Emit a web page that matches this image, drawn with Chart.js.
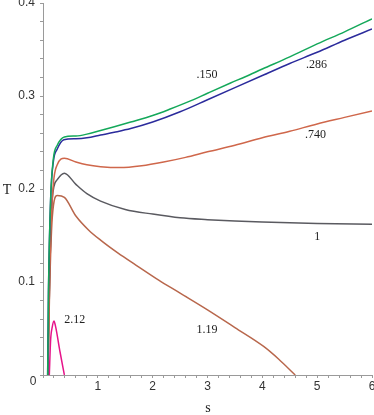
<!DOCTYPE html>
<html lang="en">
<head>
<meta charset="UTF-8">
<title>T against s</title>
<script src="https://cdn.jsdelivr.net/npm/chart.js"></script>
<style>
    body { margin: 0; background: #fff; }
    canvas { display: block; }
</style>
</head>
<body>

<canvas id="tChart" width="374" height="415"></canvas>

<script>
// curve .150
var s150 = [0.085, 0.10, 0.14, 0.19, 0.26, 0.39, 0.6, 0.8, 1.05, 1.3, 1.6, 2.0, 2.32, 2.7, 3.0, 3.42, 3.7, 4.0, 4.5, 5.0, 5.5, 6.0];
var T150 = [0, 0.09, 0.19, 0.233, 0.247, 0.256, 0.257, 0.259, 0.263, 0.267, 0.272, 0.279, 0.286, 0.295, 0.303, 0.314, 0.321, 0.329, 0.342, 0.356, 0.369, 0.383];
// curve .286
var s286 = [0.085, 0.10, 0.14, 0.19, 0.26, 0.38, 0.6, 0.8, 1.05, 1.3, 1.6, 2.0, 2.5, 3.0, 3.5, 4.0, 4.5, 5.0, 5.5, 6.0];
var T286 = [0, 0.09, 0.19, 0.23, 0.243, 0.253, 0.254, 0.255, 0.258, 0.261, 0.265, 0.272, 0.283, 0.296, 0.309, 0.322, 0.335, 0.347, 0.360, 0.372];
// curve .740
var s740 = [0.09, 0.12, 0.17, 0.26, 0.39, 0.6, 0.8, 1.05, 1.4, 1.8, 2.2, 2.6, 3.0, 3.5, 4.0, 4.5, 5.0, 5.5, 6.0];
var T740 = [0, 0.10, 0.19, 0.226, 0.233, 0.229, 0.226, 0.224, 0.223, 0.225, 0.229, 0.234, 0.240, 0.247, 0.255, 0.262, 0.270, 0.277, 0.284];
// curve 1
var s1 = [0.09, 0.12, 0.17, 0.26, 0.39, 0.6, 0.8, 1.05, 1.5, 2.0, 2.5, 3.0, 3.5, 4.0, 5.0, 6.0];
var T1 = [0, 0.10, 0.19, 0.21, 0.217, 0.205, 0.195, 0.187, 0.178, 0.173, 0.169, 0.167, 0.1655, 0.1645, 0.163, 0.162];
// curve 1.19
var s119 = [0.09, 0.12, 0.17, 0.26, 0.39, 0.6, 0.83, 1.05, 1.37, 1.7, 2.11, 2.5, 3.0, 3.5, 4.03, 4.3, 4.6];
var T119 = [0, 0.09, 0.17, 0.193, 0.191, 0.171, 0.156, 0.145, 0.131, 0.118, 0.102, 0.088, 0.070, 0.051, 0.0305, 0.017, 0];
// curve 2.12
var s212 = [0.115, 0.139, 0.17, 0.2, 0.23, 0.31, 0.39];
var T212 = [0, 0.0376, 0.052, 0.058, 0.052, 0.025, 0];

var curveNames = ['.150', '.286', '.740', '1', '1.19', '2.12'];
var curveColors = ['#14a85a', '#2b2b9c', '#cf674b', '#5a5a60', '#b8674c', '#e6148a'];
// where each curve name is written, in s and T
var labelS = [2.99, 4.99, 4.97, 5.0, 2.99, 0.58];
var labelT = [0.324, 0.334, 0.259, 0.149, 0.049, 0.060];

var curves = [[s150, T150], [s286, T286], [s740, T740], [s1, T1], [s119, T119], [s212, T212]];

function toPoints(sArr, tArr) {
    var pts = [];
    for (var i = 0; i < sArr.length; i++) {
        pts.push({x: sArr[i], y: tArr[i]});
    }
    return pts;
}

var datasets = curves.map(function (c, i) {
    return {
        label: curveNames[i],
        data: toPoints(c[0], c[1]),
        borderColor: curveColors[i],
        borderWidth: 1.5,
        pointRadius: 0,
        cubicInterpolationMode: 'monotone',
        fill: false
    };
});

// names on the curves, axis letters and the lone "0"
var labelPlugin = {
    id: 'curveLabels',
    afterDraw: function (chart) {
        var ctx = chart.ctx;
        var xs = chart.scales.x;
        var ys = chart.scales.y;
        ctx.save();
        ctx.fillStyle = '#222';
        ctx.textAlign = 'center';
        ctx.textBaseline = 'alphabetic';
        ctx.font = '12px "Liberation Serif", "Times New Roman", serif';
        for (var i = 0; i < curveNames.length; i++) {
            ctx.fillText(curveNames[i], xs.getPixelForValue(labelS[i]), ys.getPixelForValue(labelT[i]) + 4);
        }
        ctx.font = '14px "Liberation Serif", "Times New Roman", serif';
        ctx.fillText('T', 7, ys.getPixelForValue(0.2) + 5);
        ctx.fillText('s', xs.getPixelForValue(3.01), 411.5);
        ctx.fillStyle = '#333';
        ctx.font = '12px "Liberation Sans", Arial, sans-serif';
        ctx.textAlign = 'right';
        ctx.fillText('0', 36.5, 384.5);
        ctx.restore();
    }
};

var axisGrey = '#9a9a9a';

new Chart(document.getElementById('tChart').getContext('2d'), {
    type: 'line',
    data: { datasets: datasets },
    plugins: [labelPlugin],
    options: {
        responsive: false,
        animation: false,
        devicePixelRatio: 1,
        layout: { padding: 0 },
        plugins: {
            legend: { display: false },
            tooltip: { enabled: false }
        },
        scales: {
            x: {
                type: 'linear',
                min: 0,
                max: 6,
                grid: { drawOnChartArea: false, drawTicks: true, tickLength: 3, color: axisGrey },
                border: { display: true, color: axisGrey, width: 1 },
                ticks: {
                    stepSize: 0.2,
                    autoSkip: false,
                    maxRotation: 0,
                    padding: 1,
                    color: '#333',
                    font: { family: '"Liberation Sans", Arial, sans-serif', size: 12 },
                    callback: function (value) {
                        var r = Math.round(value);
                        if (r >= 1 && Math.abs(value - r) < 1e-6) return String(r);
                        return '';
                    }
                },
                afterFit: function (scale) {
                    scale.height = 40;
                    scale.paddingLeft = 0;
                    scale.paddingRight = 2;
                }
            },
            y: {
                type: 'linear',
                min: 0,
                max: 0.4,
                grid: { drawOnChartArea: false, drawTicks: true, tickLength: 3, color: axisGrey },
                border: { display: true, color: axisGrey, width: 1 },
                ticks: {
                    stepSize: 0.02,
                    autoSkip: false,
                    padding: 5,
                    color: '#333',
                    font: { family: '"Liberation Sans", Arial, sans-serif', size: 12 },
                    callback: function (value) {
                        var tenth = Math.round(value * 10);
                        if (tenth >= 1 && Math.abs(value * 10 - tenth) < 1e-6) return (tenth / 10).toFixed(1);
                        return '';
                    }
                },
                afterFit: function (scale) {
                    scale.width = 43;
                    scale.paddingTop = 3;
                    scale.paddingBottom = 0;
                }
            }
        }
    }
});
</script>

</body>
</html>
